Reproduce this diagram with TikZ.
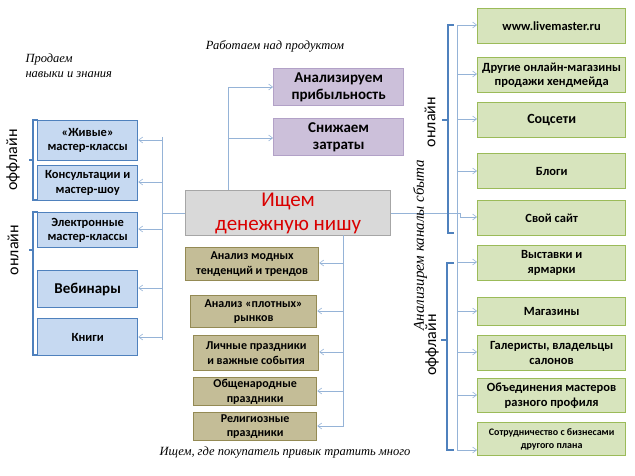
\documentclass[tikz,border=0pt]{standalone}
\usepackage{fontspec}
\setmainfont{Carlito}
\newfontfamily\capf{Liberation Serif}
\usetikzlibrary{arrows.meta}
\definecolor{bfill}{RGB}{198,217,241}\definecolor{bdraw}{RGB}{79,129,189}
\definecolor{pfill}{RGB}{204,192,218}\definecolor{pdraw}{RGB}{178,161,199}
\definecolor{ofill}{RGB}{196,189,151}\definecolor{odraw}{RGB}{148,138,84}
\definecolor{gfill}{RGB}{215,228,189}\definecolor{gdraw}{RGB}{155,187,89}
\definecolor{cfill}{RGB}{217,217,217}\definecolor{cdraw}{RGB}{166,166,166}
\definecolor{conn}{RGB}{149,179,215}\definecolor{brc}{RGB}{79,129,189}
\tikzset{
 box/.style={draw, line width=1.3pt, align=center, inner sep=0pt, font=\bfseries\fontsize{12.5}{14.5}\selectfont},
 bb/.style={box, fill=bfill, draw=bdraw},
 pb/.style={box, fill=pfill, draw=pdraw, font=\bfseries\fontsize{15}{17}\selectfont},
 ob/.style={box, fill=ofill, draw=odraw, font=\bfseries\fontsize{12}{14.5}\selectfont},
 gb/.style={box, fill=gfill, draw=gdraw},
 ar/.style={draw=conn, line width=0.6pt, -{Straight Barb[length=4pt,width=6pt]}},
 ln/.style={draw=conn, line width=0.6pt},
 brk/.style={draw=brc, line width=1.6pt},
 captxt/.style={font=\capf\itshape\fontsize{12.5}{15}\selectfont, align=left},
 side/.style={font=\fontsize{16}{18}\selectfont, rotate=90}
}
\newcommand{\bx}[6]{\node[#1, minimum width=#4pt-#2pt, minimum height=#5pt-#3pt, anchor=north west] (#6) at (#2,#3)}
\begin{document}
\begin{tikzpicture}[x=1pt,y=-1pt]
\useasboundingbox (0,0) rectangle (635,476);
% center
\bx{box, fill=cfill, draw=cdraw, font=\fontsize{21}{24}\selectfont\color{red!85!black}}{185}{190}{390}{235}{c} {Ищем\\денежную нишу};
% left
\bx{bb}{37}{120}{137}{160}{l1} {«Живые»\\мастер-классы};
\bx{bb}{37}{165}{137}{200}{l2} {Консультации и\\мастер-шоу};
\bx{bb}{37}{212}{137}{247}{l3} {Электронные\\мастер-классы};
\bx{bb, font=\bfseries\fontsize{15}{17}\selectfont}{37}{270}{137}{307}{l4} {Вебинары};
\bx{bb}{37}{318}{137}{355}{l5} {Книги};
\coordinate (ls) at (162,213);
\draw[ln] (c.west|-ls) -- (ls);
\draw[ln] (162,137) -- (162,340);
\foreach \n/\y in {l1/140,l2/182,l3/229,l4/288,l5/337}{\draw[ar] (162,\y) -- (\n.east|-0,\y);}
% purple
\bx{pb}{273}{68}{403}{105}{p1} {Анализируем\\прибыльность};
\bx{pb}{273}{118}{403}{155}{p2} {Снижаем\\затраты};
\draw[ln] (228,190) -- (228,87);
\draw[ar] (228,87) -- (p1.west|-0,87);
\draw[ar] (228,138) -- (p2.west|-0,138);
% olive
\bx{ob}{185}{247}{318}{280}{o1} {Анализ модных\\тенденций и трендов};
\bx{ob}{190}{295}{316}{327}{o2} {Анализ «плотных»\\рынков};
\bx{ob}{193}{335}{318}{370}{o3} {Личные праздники\\и важные события};
\bx{ob}{193}{377}{316}{405}{o4} {Общенародные\\праздники};
\bx{ob}{193}{412}{316}{440}{o5} {Религиозные\\праздники};
\draw[ln] (343,235) -- (343,427);
\foreach \n/\y in {o1/263,o2/311,o3/352,o4/391,o5/426}{\draw[ar] (343,\y) -- (\n.east|-0,\y);}
% right
\bx{gb}{477}{8}{625}{43}{r1} {www.livemaster.ru};
\bx{gb}{477}{57}{625}{92}{r2} {Другие онлайн-магазины\\продажи хендмейда};
\bx{gb, font=\bfseries\fontsize{14}{16}\selectfont}{477}{102}{625}{137}{r3} {Соцсети};
\bx{gb}{477}{153}{625}{188}{r4} {Блоги};
\bx{gb}{477}{200}{625}{235}{r5} {Свой сайт};
\bx{gb}{477}{245}{625}{280}{r6} {Выставки и\\ярмарки};
\bx{gb}{477}{297}{625}{325}{r7} {Магазины};
\bx{gb}{477}{335}{625}{370}{r8} {Галеристы, владельцы\\салонов};
\bx{gb}{477}{378}{625}{412}{r9} {Объединения мастеров\\разного профиля};
\bx{gb, font=\bfseries\fontsize{10}{12.5}\selectfont}{477}{422}{625}{455}{r10} {Сотрудничество с бизнесами\\другого плана};
\draw[ln] (457,25) -- (457,450);
\draw[ln] (c.east|-0,213) -- (460,213) -- (460,217);
\foreach \n/\y in {r1/25,r2/74,r3/119,r4/171,r6/262,r7/311,r8/352,r9/395}{\draw[ar] (457,\y) -- (\n.west|-0,\y);}
\draw[ar] (460,217) -- (r5.west|-0,217);
\draw[ar] (457,450) -- (r10.west|-0,450);
% brackets
\draw[brk] (38,120) -- (33,120) -- (33,200) -- (38,200) (33,160) -- (29,160);
\draw[brk] (38,212) -- (33,212) -- (33,355) -- (38,355) (33,250) -- (29,250);
\draw[brk] (454,25) -- (448,25) -- (448,233) -- (454,233) (448,120) -- (442,120);
\draw[brk] (454,263) -- (447,263) -- (447,450) -- (454,450) (447,340) -- (441,340);
\node[side] (s1) at (13,160) {оффлайн};
\node[side] (s2) at (13,250) {онлайн};
\node[side] (s3) at (430,122) {онлайн};
\node[side] (s4) at (432,345) {оффлайн};
% captions
\node[captxt, anchor=north west] (t1) at (22,50) {Продаем\\навыки и знания};
\node[captxt] (t2) at (275,46) {Работаем над продуктом};
\node[captxt] (t3) at (285,453) {Ищем, где покупатель привык тратить много};
\node[captxt, rotate=90, font=\capf\itshape\fontsize{15}{17}\selectfont] (t4) at (420,245) {Анализирем каналы сбыта};
\end{tikzpicture}
\end{document}
